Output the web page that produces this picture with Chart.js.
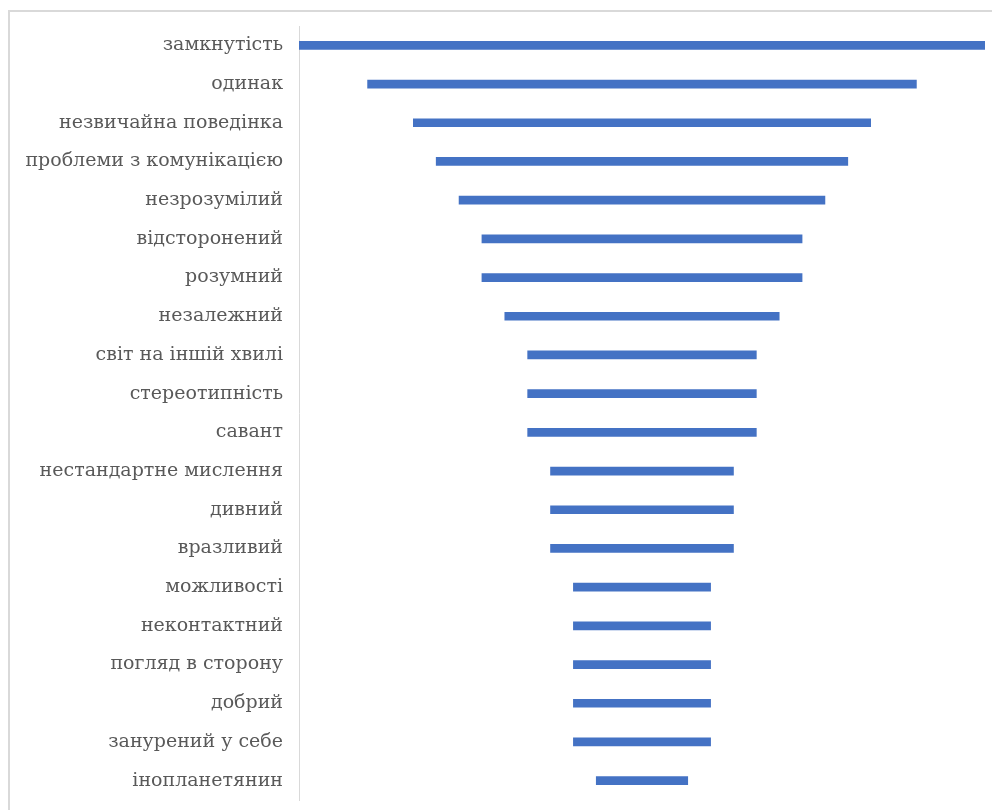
<!DOCTYPE html>
<html>
<head>
<meta charset="utf-8">
<script src="https://cdn.jsdelivr.net/npm/chart.js@4"></script>
<style>
  html, body { margin: 0; padding: 0; background: #fff; }
  #wrap { position: relative; width: 992px; height: 810px; overflow: hidden; }
  #frame {
    position: absolute; left: 8px; top: 10px; width: 1200px; height: 1200px;
    border-left: 2px solid #d9d9d9; border-top: 2px solid #d9d9d9;
    box-sizing: border-box;
  }
  canvas { position: absolute; left: 0; top: 0; }
</style>
</head>
<body>
<div id="wrap">
  <div id="frame"></div>
  <canvas id="funnel" width="992" height="810"></canvas>
</div>
<script>
// категорії зверху вниз
const labels = [
  "замкнутість",
  "одинак",
  "незвичайна поведінка",
  "проблеми з комунікацією",
  "незрозумілий",
  "відсторонений",
  "розумний",
  "незалежний",
  "світ на іншій хвилі",
  "стереотипність",
  "савант",
  "нестандартне мислення",
  "дивний",
  "вразливий",
  "можливості",
  "неконтактний",
  "погляд в сторону",
  "добрий",
  "занурений у себе",
  "інопланетянин",
];

// кількість згадувань
const counts = [15, 12, 10, 9, 8, 7, 7, 6, 5, 5, 5, 4, 4, 4, 3, 3, 3, 3, 3, 2];

// воронка: кожна смуга центрована відносно максимуму
const maxCount = Math.max(...counts);
const funnelData = counts.map((v) => [(maxCount - v) / 2, (maxCount + v) / 2]);

const ctx = document.getElementById("funnel").getContext("2d");

new Chart(ctx, {
  type: "bar",
  data: {
    labels: labels,
    datasets: [
      {
        data: funnelData,
        backgroundColor: "#4472C4",
        borderWidth: 0,
        barThickness: 8,
      },
    ],
  },
  options: {
    indexAxis: "y",
    responsive: false,
    animation: false,
    layout: {
      padding: { top: 26, right: 7, bottom: 10, left: 0 },
    },
    plugins: {
      legend: { display: false },
      tooltip: { enabled: false },
    },
    scales: {
      x: {
        display: false,
        min: 0,
        max: maxCount,
      },
      y: {
        grid: { display: false, drawTicks: false },
        border: { display: true, color: "#d9d9d9", width: 1 },
        ticks: {
          color: "#595959",
          padding: 16,
          font: { family: '"DejaVu Serif", serif', size: 19 },
          autoSkip: false,
        },
        afterFit: (scale) => {
          // фіксована ширина осі підписів, без додаткових відступів зверху/знизу
          scale.width = 299;
          scale.paddingTop = 0;
          scale.paddingBottom = 0;
        },
      },
    },
  },
});
</script>
</body>
</html>
